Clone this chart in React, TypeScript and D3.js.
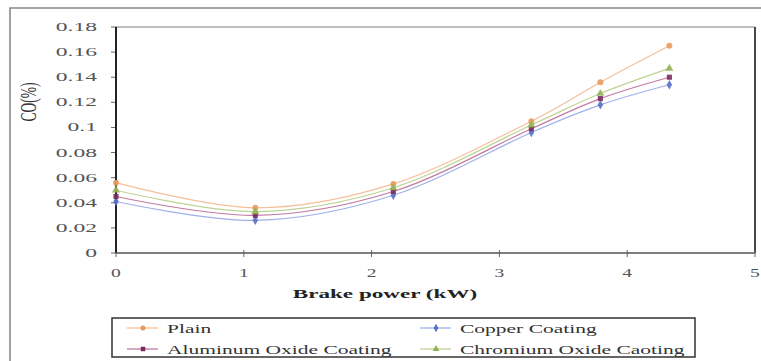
import React from "react";
import * as d3 from "d3";

const brakePower = [0, 1.09, 2.17, 3.25, 3.79, 4.33];
const plain = [0.056, 0.036, 0.055, 0.105, 0.136, 0.165];
const copper = [0.041, 0.026, 0.046, 0.096, 0.118, 0.134];
const aluminum = [0.045, 0.03, 0.049, 0.099, 0.123, 0.14];
const chromium = [0.05, 0.033, 0.052, 0.102, 0.127, 0.147];
const seriesNames = ["Plain", "Copper Coating", "Aluminum Oxide Coating", "Chromium Oxide Caoting"];
const yTicks = [0, 0.02, 0.04, 0.06, 0.08, 0.1, 0.12, 0.14, 0.16, 0.18];
const xTicks = [0, 1, 2, 3, 4, 5];

const W = 761, H = 361;
const L = 116, R = 755, T = 27, B = 253;
const SX = 1.65;
const FONT = "Liberation Serif, Times New Roman, serif";

const x = d3.scaleLinear().domain([0, 5]).range([L, R]);
const y = d3.scaleLinear().domain([0, 0.18]).range([B, T]);

const styles = [
  { line: "#f5c09a", mark: "#eb9a5c", sym: d3.symbolCircle, size: 28 },
  { line: "#9fb0ea", mark: "#5a70c8", sym: d3.symbolDiamond, size: 26 },
  { line: "#c07aa2", mark: "#7a2a60", sym: d3.symbolSquare, size: 26 },
  { line: "#bfd395", mark: "#93b257", sym: d3.symbolTriangle, size: 28 },
];
const seriesData = [plain, copper, aluminum, chromium];

function SText({ x, y, anchor = "start", size = 12, weight = "normal", fill = "#555", sx = SX, children }: any) {
  return (
    <text
      transform={`translate(${x},${y}) scale(${sx},1)`}
      textAnchor={anchor}
      style={{ fontFamily: FONT, fontSize: size, fontWeight: weight }}
      fill={fill}
    >
      {children}
    </text>
  );
}

export default function App() {
  const line = d3
    .line<[number, number]>()
    .x((d) => x(d[0]))
    .y((d) => y(d[1]))
    .curve(d3.curveCardinal.tension(0));

  const legendItems = [
    { i: 0, lx: 127, ly: 328 },
    { i: 1, lx: 420, ly: 328 },
    { i: 2, lx: 127, ly: 349 },
    { i: 3, lx: 420, ly: 349 },
  ];

  return (
    <svg width={W} height={H} style={{ position: "absolute", left: 0, top: 0, background: "#fff" }}>
      <rect x={0} y={0} width={W} height={H} fill="#fff" />
      {/* outer frame */}
      <path d={`M10,${H} L10,8 L${W},8`} fill="none" stroke="#8a8a8a" strokeWidth={1.6} />

      {/* plot frame */}
      <line x1={L} x2={R} y1={T} y2={T} stroke="#a8a8a8" strokeWidth={1.6} />
      <line x1={R} x2={R} y1={T} y2={B} stroke="#333" strokeWidth={1.8} />

      {/* y ticks */}
      {yTicks.map((t) => (
        <g key={t}>
          <line x1={L - 5} x2={L} y1={y(t)} y2={y(t)} stroke="#666" strokeWidth={1} />
          <SText x={97} y={y(t) + 4} anchor="end" size={11.5} sx={2.05}>
            {d3.format("~g")(t)}
          </SText>
        </g>
      ))}
      {/* x ticks */}
      {xTicks.map((t) => (
        <g key={t}>
          <line x1={x(t)} x2={x(t)} y1={B - 3} y2={B + 4} stroke="#666" strokeWidth={1} />
          <SText x={x(t)} y={B + 24} anchor="middle" size={11.5} sx={1.7}>
            {t}
          </SText>
        </g>
      ))}
      {/* axes */}
      <line x1={L} x2={L} y1={T} y2={B} stroke="#222" strokeWidth={2} />
      <line x1={L} x2={R} y1={B} y2={B} stroke="#555" strokeWidth={1.6} />

      {/* titles */}
      <SText x={385} y={298} anchor="middle" size={12.5} weight="bold" fill="#222" sx={1.85}>
        Brake power (kW)
      </SText>
      <text
        transform={`translate(36,102) scale(1.65,1) rotate(-90)`}
        textAnchor="middle"
        style={{ fontFamily: FONT, fontSize: 13.5 }}
        fill="#333"
      >
        CO(%)
      </text>

      {/* series */}
      {seriesData.map((vals, si) => {
        const pts: [number, number][] = brakePower.map((b, i) => [b, vals[i]]);
        const st = styles[si];
        const sym = d3.symbol().type(st.sym).size(st.size)();
        return (
          <g key={si}>
            <path d={line(pts) || ""} fill="none" stroke={st.line} strokeWidth={1.2} />
            {pts.map((p, i) => (
              <path key={i} d={sym || ""} transform={`translate(${x(p[0])},${y(p[1])})`} fill={st.mark} opacity={0.9} />
            ))}
          </g>
        );
      })}

      {/* legend */}
      <rect x={112} y={318} width={583} height={39} fill="#fff" stroke="#333" strokeWidth={1.5} />
      {legendItems.map(({ i, lx, ly }) => {
        const st = styles[i];
        const sym = d3.symbol().type(st.sym).size(20)();
        return (
          <g key={i}>
            <line x1={lx} x2={lx + 31} y1={ly} y2={ly} stroke={st.line} strokeWidth={1.3} />
            <path d={sym || ""} transform={`translate(${lx + 16},${ly})`} fill={st.mark} />
            <SText x={lx + 40} y={ly + 4.5} size={12.5} fill="#333" sx={1.72}>
              {seriesNames[i]}
            </SText>
          </g>
        );
      })}
    </svg>
  );
}
